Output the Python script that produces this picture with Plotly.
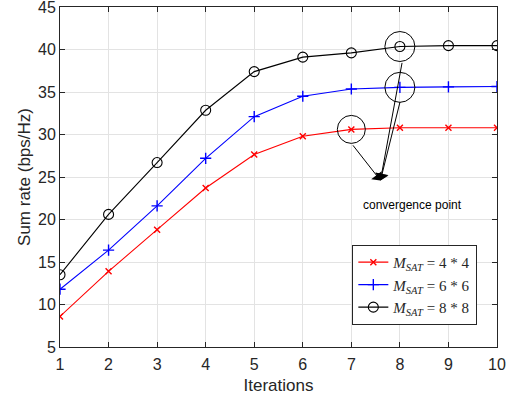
import plotly.graph_objects as go

iterations = [1, 2, 3, 4, 5, 6, 7, 8, 9, 10]
rate_4x4 = [8.6, 13.9, 18.8, 23.7, 27.65, 29.8, 30.6, 30.8, 30.8, 30.8]
rate_6x6 = [11.8, 16.4, 21.6, 27.2, 32.1, 34.5, 35.35, 35.55, 35.6, 35.65]
rate_8x8 = [13.5, 20.6, 26.7, 32.85, 37.4, 39.1, 39.6, 40.35, 40.45, 40.45]

series_names = [
    "<i>M</i><sub><i>SAT</i></sub> = 4 * 4",
    "<i>M</i><sub><i>SAT</i></sub> = 6 * 6",
    "<i>M</i><sub><i>SAT</i></sub> = 8 * 8",
]

# converged points that get circled and pointed at
conv_x = [7, 8, 8]
conv_y = [rate_4x4[6], rate_6x6[7], rate_8x8[7]]
conv_radius = [14, 15, 15]
arrow_tail_x = [7.01, 8.01, 8.05]
arrow_tail_y = [28.9, 34.0, 38.6]
arrow_tip = (7.6, 24.6)

fig = go.Figure()
fig.add_trace(go.Scatter(x=iterations, y=rate_4x4, mode="lines+markers", name=series_names[0],
                         line=dict(color="#ff0000", width=1.1),
                         marker=dict(symbol="x-thin", size=6, line=dict(color="#ff0000", width=1.4))))
fig.add_trace(go.Scatter(x=iterations, y=rate_6x6, mode="lines+markers", name=series_names[1],
                         line=dict(color="#0000ff", width=1.1),
                         marker=dict(symbol="cross-thin", size=8, line=dict(color="#0000ff", width=1.4))))
fig.add_trace(go.Scatter(x=iterations, y=rate_8x8, mode="lines+markers", name=series_names[2],
                         line=dict(color="#000000", width=1.1),
                         marker=dict(symbol="circle-open", size=10, color="#000000", line=dict(width=1.1))))

for cx, cy, r in zip(conv_x, conv_y, conv_radius):
    fig.add_shape(type="circle", xref="x", yref="y", xsizemode="pixel", ysizemode="pixel",
                  xanchor=cx, yanchor=cy, x0=-r, x1=r, y0=-r, y1=r,
                  line=dict(color="#000000", width=1))

for tx, ty in zip(arrow_tail_x, arrow_tail_y):
    fig.add_annotation(x=arrow_tip[0], y=arrow_tip[1], ax=tx, ay=ty, xref="x", yref="y",
                       axref="x", ayref="y", text="", showarrow=True,
                       arrowhead=1, arrowsize=2.2, arrowwidth=1, arrowcolor="#000000")

fig.add_annotation(x=8.26, y=21.7, xref="x", yref="y", text="convergence point", showarrow=False,
                   font=dict(size=12, color="#000000", family="Liberation Sans, Arial, sans-serif"))

axis_common = dict(showgrid=True, gridcolor="#e3e3e3", gridwidth=1, showline=True, linecolor="#262626",
                   linewidth=1, mirror="ticks", ticks="inside", ticklen=5, tickcolor="#262626",
                   zeroline=False, ticklabeloverflow="allow", automargin=False,
                   tickfont=dict(size=16, color="#262626"))

fig.update_layout(
    width=508, height=403,
    margin=dict(l=60, r=11, t=7, b=56),
    paper_bgcolor="white", plot_bgcolor="white",
    font=dict(family="Liberation Sans, Arial, sans-serif", color="#262626"),
    xaxis=dict(range=[1, 10], dtick=1, ticklabelstandoff=3,
               title=dict(text="Iterations", font=dict(size=17), standoff=6),
               **axis_common),
    yaxis=dict(range=[5, 45], dtick=5, title=dict(text="Sum rate (bps/Hz)", font=dict(size=17), standoff=3),
               **axis_common),
    legend=dict(x=0.955, y=0.065, xanchor="right", yanchor="bottom", bgcolor="white",
                bordercolor="#262626", borderwidth=1, tracegroupgap=0, itemwidth=30,
                font=dict(family="Liberation Serif, Times New Roman, serif", size=15, color="#262626")),
    showlegend=True,
)

fig.write_html("out.html")
